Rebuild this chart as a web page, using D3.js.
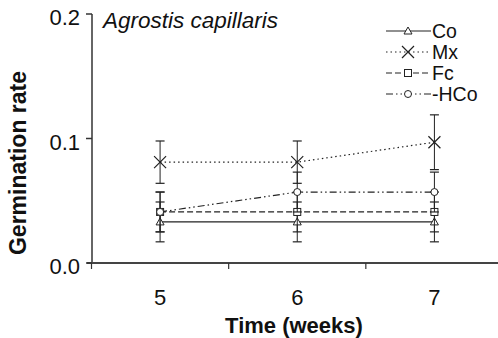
<!DOCTYPE html>
<html lang="en">
<head>
  <meta charset="UTF-8">
  <title>Agrostis capillaris germination</title>
  <script src="https://d3js.org/d3.v7.min.js"></script>
  <style>
    body { margin: 0; background: #fff; }
    svg { display: block; font-family: "Liberation Sans", Arial, sans-serif; }
  </style>
</head>
<body>
  <svg id="chart" width="498" height="338"></svg>
  <script>
    const weeks = [5, 6, 7];
    const seriesNames = ["Co", "Mx", "Fc", "-HCo"];
    const coValues = [0.033, 0.033, 0.033];
    const mxValues = [0.081, 0.081, 0.097];
    const fcValues = [0.041, 0.041, 0.041];
    const hcoValues = [0.041, 0.057, 0.057];
    const coErr = [0.016, 0.016, 0.016];
    const mxErr = [0.017, 0.017, 0.022];
    const fcErr = [0.016, 0.016, 0.016];
    const hcoErr = [0.016, 0.016, 0.016];
    const yTicks = [0, 0.1, 0.2];
    const xMinorTicks = [4.5, 5.5, 6.5];

    const series = [
      { name: seriesNames[0], values: coValues, err: coErr, dash: null, marker: "triangle" },
      { name: seriesNames[1], values: mxValues, err: mxErr, dash: "1.5,3", marker: "cross" },
      { name: seriesNames[2], values: fcValues, err: fcErr, dash: "6,3", marker: "square" },
      { name: seriesNames[3], values: hcoValues, err: hcoErr, dash: "7,3,1.5,3,1.5,3", marker: "circle" }
    ];

    const svg = d3.select("#chart");
    const x = d3.scaleLinear().domain([4.5, 7.5]).range([91.5, 503]);
    const y = d3.scaleLinear().domain([0, 0.2]).range([263, 14]);

    // axes
    svg.append("line").attr("x1", 92).attr("x2", 92).attr("y1", y(0.2)).attr("y2", y(0))
      .attr("stroke", "#333").attr("stroke-width", 1.5);
    svg.append("line").attr("x1", 87).attr("x2", 498).attr("y1", y(0)).attr("y2", y(0))
      .attr("stroke", "#444").attr("stroke-width", 2);

    yTicks.forEach(t => {
      svg.append("line").attr("x1", 86).attr("x2", 92).attr("y1", y(t)).attr("y2", y(t))
        .attr("stroke", "#333").attr("stroke-width", 1.5);
      svg.append("text").attr("x", 80).attr("y", y(t) + 11).attr("text-anchor", "end")
        .attr("font-size", 22).attr("fill", "#111").text(t.toFixed(1));
    });
    xMinorTicks.forEach(t => {
      svg.append("line").attr("x1", x(t)).attr("x2", x(t)).attr("y1", y(0)).attr("y2", y(0) + 6)
        .attr("stroke", "#333").attr("stroke-width", 1.2);
    });
    weeks.forEach(w => {
      svg.append("text").attr("x", x(w)).attr("y", 305).attr("text-anchor", "middle")
        .attr("font-size", 22).attr("fill", "#111").text(w);
    });

    svg.append("text").attr("x", 294).attr("y", 333).attr("text-anchor", "middle")
      .attr("font-size", 22).attr("font-weight", "bold").attr("fill", "#111").text("Time (weeks)");
    svg.append("text").attr("transform", "translate(26,163) rotate(-90)").attr("text-anchor", "middle")
      .attr("font-size", 23).attr("font-weight", "bold").attr("fill", "#111").text("Germination rate");
    svg.append("text").attr("x", 103).attr("y", 28).attr("font-size", 22.5).attr("font-style", "italic")
      .attr("fill", "#111").text("Agrostis capillaris");

    function drawMarker(g, type, cx, cy) {
      if (type === "triangle") {
        g.append("path").attr("d", `M${cx},${cy - 4}L${cx + 4},${cy + 3}L${cx - 4},${cy + 3}Z`)
          .attr("fill", "#fff").attr("stroke", "#222").attr("stroke-width", 1);
      } else if (type === "cross") {
        g.append("path").attr("d", `M${cx - 6},${cy - 6}L${cx + 6},${cy + 6}M${cx - 6},${cy + 6}L${cx + 6},${cy - 6}`)
          .attr("stroke", "#222").attr("stroke-width", 1.2);
      } else if (type === "square") {
        g.append("rect").attr("x", cx - 3.5).attr("y", cy - 3.5).attr("width", 7).attr("height", 7)
          .attr("fill", "#fff").attr("stroke", "#222").attr("stroke-width", 1);
      } else {
        g.append("circle").attr("cx", cx).attr("cy", cy).attr("r", 3.5)
          .attr("fill", "#fff").attr("stroke", "#222").attr("stroke-width", 1);
      }
    }

    const line = d3.line().x((d, i) => x(weeks[i])).y(d => y(d));

    series.forEach(s => {
      const g = svg.append("g");
      // error bars
      s.values.forEach((v, i) => {
        const cx = x(weeks[i]);
        const lo = y(v - s.err[i]), hi = y(v + s.err[i]);
        g.append("line").attr("x1", cx).attr("x2", cx).attr("y1", lo).attr("y2", hi)
          .attr("stroke", "#222").attr("stroke-width", 1);
        [lo, hi].forEach(yy => g.append("line").attr("x1", cx - 4.5).attr("x2", cx + 4.5)
          .attr("y1", yy).attr("y2", yy).attr("stroke", "#222").attr("stroke-width", 1.2));
      });
      g.append("path").attr("d", line(s.values)).attr("fill", "none")
        .attr("stroke", "#222").attr("stroke-width", 1.2)
        .attr("stroke-dasharray", s.dash);
      s.values.forEach((v, i) => drawMarker(g, s.marker, x(weeks[i]), y(v)));
    });

    // legend
    series.forEach((s, i) => {
      const ly = 31 + i * 21;
      const g = svg.append("g");
      g.append("line").attr("x1", 386).attr("x2", 431).attr("y1", ly).attr("y2", ly)
        .attr("stroke", "#222").attr("stroke-width", 1.2).attr("stroke-dasharray", s.dash);
      drawMarker(g, s.marker, 408, ly);
      g.append("text").attr("x", 432).attr("y", ly + 7).attr("font-size", 19.5)
        .attr("fill", "#111").text(s.name);
    });
  </script>
</body>
</html>
